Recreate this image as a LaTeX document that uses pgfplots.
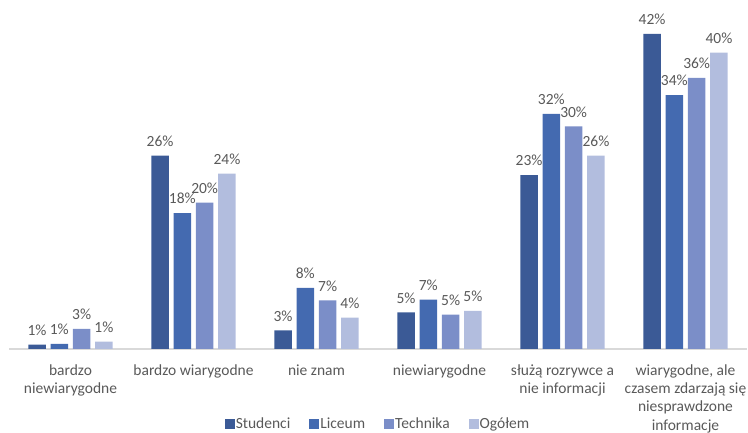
\documentclass[border=0pt]{standalone}
\usepackage{pgfplots}
\pgfplotsset{compat=1.18}
\usepackage{fontspec}
\setmainfont{Carlito}
\definecolor{cA}{HTML}{3B5A96}
\definecolor{cB}{HTML}{446AB0}
\definecolor{cC}{HTML}{7B8EC8}
\definecolor{cD}{HTML}{B2BDDE}
\definecolor{txt}{HTML}{595959}
\definecolor{axl}{HTML}{D9D9D9}
\begin{document}
\begin{tikzpicture}[x=1pt,y=1pt]
\useasboundingbox (0,0) rectangle (748,433);
\begin{axis}[
  at={(9pt,84pt)}, anchor=south west,
  scale only axis, width=738pt, height=336pt,
  xmin=-0.5, xmax=5.5, ymin=0, ymax=45,
  ybar=4.8pt, bar width=17.5pt,
  axis x line*=bottom, axis y line=none,
  axis line style={draw=axl, line width=1.3pt, -},
  xtick={0,1,2,3,4,5}, major tick length=0pt,
  xticklabels={{bardzo\\niewiarygodne},{bardzo wiarygodne},{nie znam},{niewiarygodne},{służą rozrywce a\\nie informacji},{wiarygodne, ale\\czasem zdarzają się\\niesprawdzone\\informacje}},
  x tick label style={align=center, font=\fontsize{15.5}{18.3}\selectfont, text=txt, yshift=-12pt},
  ytick=\empty,
  point meta=explicit symbolic,
  nodes near coords={\pgfplotspointmeta\%},
  every node near coord/.append style={font=\fontsize{15.5}{16}\selectfont, text=txt, inner sep=2pt, yshift=7pt},
  legend style={at={(0.5,0)}, anchor=center, yshift=-75pt, draw=none, fill=none,
    legend columns=4, font=\fontsize{15.5}{16}\selectfont, text=txt,
    /tikz/every even column/.append style={column sep=17pt},
    /tikz/every odd column/.append style={column sep=-1pt}},
  legend image code/.code={\fill[#1] (0pt,-5pt) rectangle (10pt,5pt);},
  legend cell align=left,
]
\addplot[fill=cA, draw=none] table[x=x,y=y,meta=l] {
x y l
0 0.6 1
1 25.9 26
2 2.5 3
3 4.9 5
4 23.3 23
5 42.2 42
};
\addplot[fill=cB, draw=none] table[x=x,y=y,meta=l] {
x y l
0 0.7 1
1 18.2 18
2 8.2 8
3 6.6 7
4 31.5 32
5 34.0 34
};
\addplot[fill=cC, draw=none] table[x=x,y=y,meta=l] {
x y l
0 2.7 3
1 19.6 20
2 6.5 7
3 4.6 5
4 29.8 30
5 36.3 36
};
\addplot[fill=cD, draw=none] table[x=x,y=y,meta=l] {
x y l
0 1.0 1
1 23.5 24
2 4.2 4
3 5.1 5
4 25.9 26
5 39.7 40
};
\legend{Studenci,Liceum,Technika,Ogółem}
\end{axis}
\end{tikzpicture}
\end{document}
